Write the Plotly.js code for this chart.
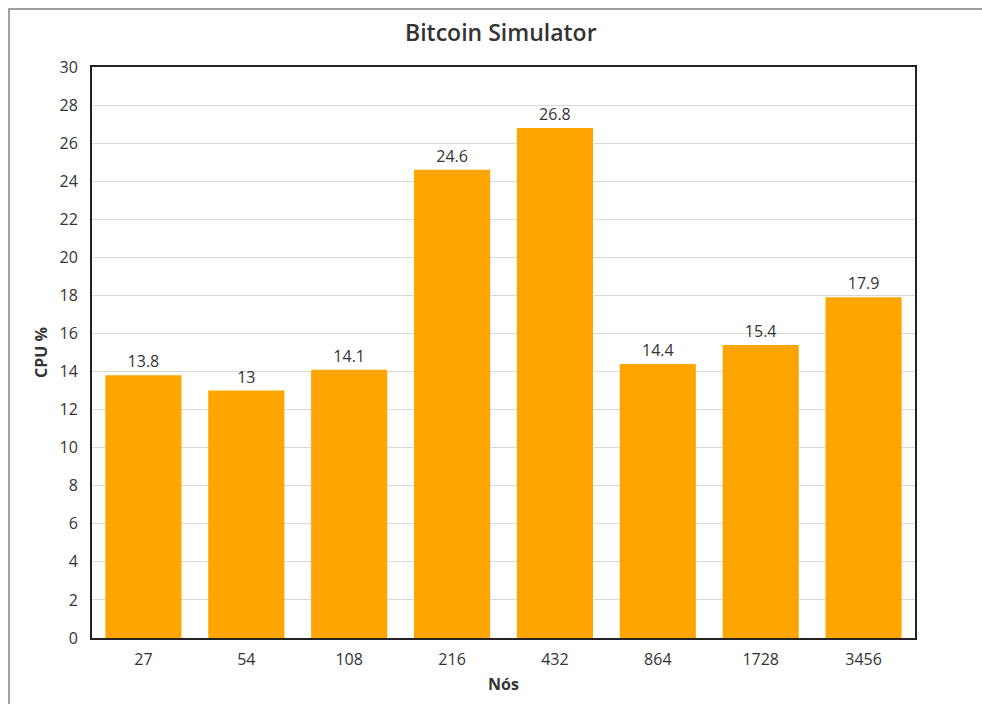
<!DOCTYPE html>
<html>
<head>
<meta charset="utf-8">
<script src="https://cdn.plot.ly/plotly-3.0.1.min.js"></script>
<style>
html,body{margin:0;padding:0;background:#fff;}
#chart{width:982px;height:704px;position:absolute;left:0;top:0;}
#frame{position:absolute;left:8px;top:8px;width:974px;height:696px;border-left:2px solid #a0a0a0;border-top:2px solid #a0a0a0;box-sizing:border-box;pointer-events:none;}
</style>
</head>
<body>
<div id="frame"></div>
<div id="chart"></div>
<script>
const categories = ["27", "54", "108", "216", "432", "864", "1728", "3456"];
const cpuValues = [13.8, 13, 14.1, 24.6, 26.8, 14.4, 15.4, 17.9];
const yTicks = [0, 2, 4, 6, 8, 10, 12, 14, 16, 18, 20, 22, 24, 26, 28, 30];

const trace = {
  type: "bar",
  x: categories,
  y: cpuValues,
  text: cpuValues.map(String),
  textposition: "outside",
  cliponaxis: false,
  textfont: {family: "Open Sans", size: 16, color: "#333"},
  marker: {color: "#FFA500"},
  hoverinfo: "x+y"
};

const layout = {
  width: 982, height: 704,
  margin: {l: 92, r: 67, t: 67, b: 66},
  paper_bgcolor: "rgba(0,0,0,0)",
  plot_bgcolor: "#fff",
  bargap: 0.26,
  showlegend: false,
  title: {text: "Bitcoin Simulator", font: {family: "Open Sans", size: 23, color: "#333", weight: 600}, x: 0.51, xanchor: "center", y: 0.953, yanchor: "middle"},
  xaxis: {
    type: "category",
    title: {text: "Nós", font: {family: "Open Sans", size: 16, color: "#333", weight: 700}, standoff: 10},
    tickfont: {family: "Open Sans", size: 16, color: "#333"},
    showline: true, linecolor: "#222", linewidth: 2, mirror: true,
    ticks: "outside", ticklen: 6, tickcolor: "rgba(0,0,0,0)", showgrid: false
  },
  yaxis: {
    range: [0, 30],
    tickvals: yTicks,
    title: {text: "CPU %", font: {family: "Open Sans", size: 16, color: "#333", weight: 700}, standoff: 8},
    tickfont: {family: "Open Sans", size: 16, color: "#333"},
    showline: true, linecolor: "#222", linewidth: 2, mirror: true,
    gridcolor: "#d9d9d9", gridwidth: 1, zeroline: false,
    ticks: "outside", ticklen: 9, tickcolor: "rgba(0,0,0,0)"
  }
};

Plotly.newPlot("chart", [trace], layout, {displayModeBar: false, staticPlot: true});
</script>
</body>
</html>
